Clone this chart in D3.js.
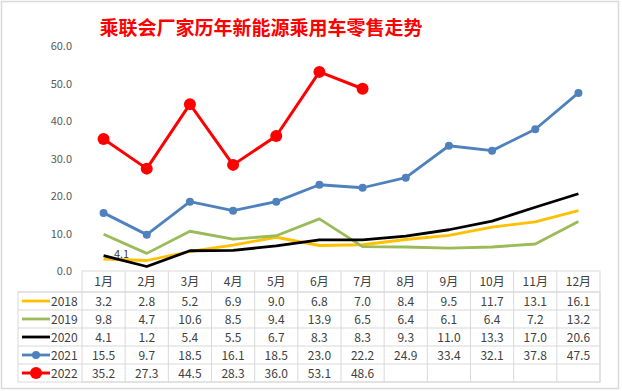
<!DOCTYPE html>
<html>
<head>
  <meta charset="utf-8">
  <script src="https://cdn.jsdelivr.net/npm/d3@7/dist/d3.min.js"></script>
  <style>
    body { margin: 0; background: #fff; }
    svg { display: block; font-family: "Noto Sans CJK SC", "DejaVu Sans", sans-serif; }
  </style>
</head>
<body>
  <div id="container"></div>
  <script>
    const months = ["1月", "2月", "3月", "4月", "5月", "6月", "7月", "8月", "9月", "10月", "11月", "12月"];
    const years = ["2018", "2019", "2020", "2021", "2022"];
    const s2018 = [3.2, 2.8, 5.2, 6.9, 9.0, 6.8, 7.0, 8.4, 9.5, 11.7, 13.1, 16.1];
    const s2019 = [9.8, 4.7, 10.6, 8.5, 9.4, 13.9, 6.5, 6.4, 6.1, 6.4, 7.2, 13.2];
    const s2020 = [4.1, 1.2, 5.4, 5.5, 6.7, 8.3, 8.3, 9.3, 11.0, 13.3, 17.0, 20.6];
    const s2021 = [15.5, 9.7, 18.5, 16.1, 18.5, 23.0, 22.2, 24.9, 33.4, 32.1, 37.8, 47.5];
    const s2022 = [35.2, 27.3, 44.5, 28.3, 36.0, 53.1, 48.6];
    const yTicks = [0, 10, 20, 30, 40, 50, 60];

    const W = 622, H = 391;
    const series = [
      { name: years[0], values: s2018, color: "#ffc000", width: 2.8, r: 0 },
      { name: years[1], values: s2019, color: "#9bbb59", width: 2.8, r: 0 },
      { name: years[2], values: s2020, color: "#000000", width: 2.8, r: 0 },
      { name: years[3], values: s2021, color: "#4f81bd", width: 2.8, r: 4 },
      { name: years[4], values: s2022, color: "#ff0000", width: 3, r: 6 }
    ];

    const svg = d3.select("#container").append("svg")
      .attr("width", W).attr("height", H);

    svg.append("rect")
      .attr("x", 1.5).attr("y", 1.5)
      .attr("width", 617).attr("height", 387)
      .attr("fill", "#fff").attr("stroke", "#d9d9d9").attr("stroke-width", 1.5);

    svg.append("text")
      .attr("x", 261).attr("y", 35)
      .attr("text-anchor", "middle")
      .attr("fill", "#ff0000")
      .attr("font-size", 19).attr("font-weight", "bold")
      .text("乘联会厂家历年新能源乘用车零售走势");

    const x = d3.scaleBand().domain(months).range([82, 600]);
    const y = d3.scaleLinear().domain([0, 60]).range([271, 46]);
    const cx = m => x(m) + x.bandwidth() / 2;

    // y axis labels
    svg.append("g").selectAll("text")
      .data(yTicks)
      .join("text")
      .attr("x", 72).attr("y", d => y(d) + 4)
      .attr("text-anchor", "end")
      .attr("fill", "#595959").attr("font-size", 11)
      .text(d => d.toFixed(1));

    const line = d3.line()
      .x((d, i) => cx(months[i]))
      .y(d => y(d));

    const g = svg.append("g");
    series.forEach(s => {
      g.append("path")
        .attr("d", line(s.values))
        .attr("fill", "none")
        .attr("stroke", s.color)
        .attr("stroke-width", s.width)
        .attr("stroke-linejoin", "round");
      if (s.r) {
        g.selectAll(null)
          .data(s.values)
          .join("circle")
          .attr("cx", (d, i) => cx(months[i]))
          .attr("cy", d => y(d))
          .attr("r", s.r)
          .attr("fill", s.color);
      }
    });

    // data label on 2020 Jan
    svg.append("text")
      .attr("x", cx(months[0]) + 18).attr("y", y(s2020[0]) + 2)
      .attr("text-anchor", "middle")
      .attr("fill", "#404040").attr("font-size", 11)
      .text(s2020[0].toFixed(1));

    // data table
    const headTop = 271, headH = 21, rowH = 18;
    const tableLeft = 18, tableRight = 600;
    const grid = "#d9d9d9";
    const tg = svg.append("g");

    tg.append("rect")
      .attr("x", 82).attr("y", headTop)
      .attr("width", tableRight - 82).attr("height", headH + rowH * 5)
      .attr("fill", "none").attr("stroke", grid);
    tg.append("rect")
      .attr("x", tableLeft).attr("y", headTop + headH)
      .attr("width", tableRight - tableLeft).attr("height", rowH * 5)
      .attr("fill", "none").attr("stroke", grid);

    tg.selectAll(".vl")
      .data(months.slice(1))
      .join("line")
      .attr("x1", d => x(d)).attr("x2", d => x(d))
      .attr("y1", headTop).attr("y2", headTop + headH + rowH * 5)
      .attr("stroke", grid);

    tg.selectAll(".hl")
      .data(d3.range(5))
      .join("line")
      .attr("x1", tableLeft).attr("x2", tableRight)
      .attr("y1", i => headTop + headH + rowH * i)
      .attr("y2", i => headTop + headH + rowH * i)
      .attr("stroke", grid);

    tg.selectAll(".mh")
      .data(months)
      .join("text")
      .attr("x", d => cx(d)).attr("y", headTop + 15)
      .attr("text-anchor", "middle")
      .attr("fill", "#404040").attr("font-size", 12)
      .text(d => d);

    series.forEach((s, r) => {
      const ry = headTop + headH + rowH * r;
      const my = ry + rowH / 2;
      tg.append("line")
        .attr("x1", 22).attr("x2", 50)
        .attr("y1", my).attr("y2", my)
        .attr("stroke", s.color).attr("stroke-width", s.width);
      if (s.r) {
        tg.append("circle")
          .attr("cx", 36).attr("cy", my).attr("r", s.r)
          .attr("fill", s.color);
      }
      tg.append("text")
        .attr("x", 51).attr("y", my + 4.5)
        .attr("fill", "#404040").attr("font-size", 12)
        .text(s.name);
      tg.selectAll(null)
        .data(s.values)
        .join("text")
        .attr("x", (d, i) => cx(months[i])).attr("y", my + 4.5)
        .attr("text-anchor", "middle")
        .attr("fill", "#404040").attr("font-size", 12)
        .text(d => d.toFixed(1));
    });
  </script>
</body>
</html>
